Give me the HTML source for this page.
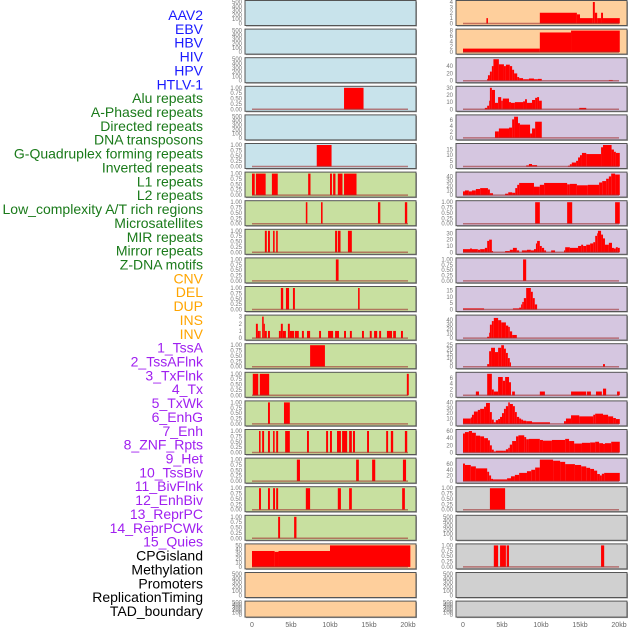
<!DOCTYPE html>
<html><head><meta charset="utf-8"><style>
html,body{margin:0;padding:0;background:#fff;}
svg{display:block;font-family:"Liberation Sans",sans-serif;}
</style></head><body>
<svg id="chart" width="630" height="630" viewBox="0 0 630 630"></svg>
<script>
const labels=["AAV2","EBV","HBV","HIV","HPV","HTLV-1","Alu repeats","A-Phased repeats","Directed repeats","DNA transposons","G-Quadruplex forming repeats","Inverted repeats","L1 repeats","L2 repeats","Low_complexity A/T rich regions","Microsatellites","MIR repeats","Mirror repeats","Z-DNA motifs","CNV","DEL","DUP","INS","INV","1_TssA","2_TssAFlnk","3_TxFlnk","4_Tx","5_TxWk","6_EnhG","7_Enh","8_ZNF_Rpts","9_Het","10_TssBiv","11_BivFlnk","12_EnhBiv","13_ReprPC","14_ReprPCWk","15_Quies","CPGisland","Methylation","Promoters","ReplicationTiming","TAD_boundary"];
const labelGroups=[6,13,5,15,5];
const groupColors=["#1a1aff","#1a7a1a","#ffa500","#a020f0","#000000"];
const xTicks=[0,5,10,15,20];
const xTickLabels=["0","5kb","10kb","15kb","20kb"];
const E=[0,100,200,300,400,500], B=[0,0.25,0.5,0.75,1];
const leftBg=["#c8e3eb","#c8e3eb","#c8e3eb","#c8e3eb","#c8e3eb","#c8e3eb","#c8e0a0","#c8e0a0","#c8e0a0","#c8e0a0","#c8e0a0","#c8e0a0","#c8e0a0","#c8e0a0","#c8e0a0","#c8e0a0","#c8e0a0","#c8e0a0","#c8e0a0","#fecf9c","#fecf9c","#fecf9c"];
const rightBg=["#fecf9c","#fecf9c","#d5c6e0","#d5c6e0","#d5c6e0","#d5c6e0","#d5c6e0","#d5c6e0","#d5c6e0","#d5c6e0","#d5c6e0","#d5c6e0","#d5c6e0","#d5c6e0","#d5c6e0","#d5c6e0","#d5c6e0","#d0d0d0","#d0d0d0","#d0d0d0","#d0d0d0","#d0d0d0"];
const leftMax=[500,500,500,1,500,1,1,1,1,1,1,3,1,1,1,1,1,1,1,50,500,500];
const rightMax=[4,8,59,30,7.3,19,46,1,34,1,17,48,25,7.4,40,60,76,1,500,1,500,500];
const leftTicks=[E,E,E,B,E,B,B,B,B,B,B,[0,1,2,3],B,B,B,B,B,B,B,[0,10,20,30,40,50],E,E];
const rightTicks=[[0,1,2,3,4],[0,2,4,6,8],[0,20,40],[0,10,20,30],[0,2,4,6],[0,5,10,15],[0,10,20,30,40],B,[0,10,20,30],B,[0,5,10,15],[0,10,20,30,40],[0,5,10,15,20,25],[0,2,4,6],[0,10,20,30,40],[0,20,40,60],[0,20,40,60],B,E,B,E,E];
const leftData=[[],[],[],[[11.8,14.3,1]],[],[[8.3,10.2,1]],
[[0,0.35,1],[0.5,1.75,1],[2.55,3.3,1],[7.2,7.5,1],[10,10.25,1],[10.4,10.7,1],[11,11.6,1],[11.8,13.4,1]],
[[6.9,7.1,1],[8.85,9.05,1],[16.15,16.45,1],[19.6,19.9,1]],
[[1.65,1.9,1],[2.05,2.3,1],[2.7,2.9,1],[3.1,3.3,1],[10.65,10.9,1],[11,11.35,1],[12.3,12.8,1]],
[[10.75,11.1,1]],
[[3.7,4,1],[4.35,4.75,1],[5.25,5.5,1],[13.6,13.8,1]],
[[0.5,0.75,2],[0.75,1.0,1],[1.0,1.1,1],[1.3,1.5,3],[1.5,1.65,2],[1.65,1.9,1],[2.05,2.3,1],[3.45,3.7,1],[3.7,3.95,2],[3.95,4.35,1],[4.6,4.85,2],[4.85,5.4,1],[5.5,6.0,1],[6.4,6.65,1],[7.05,7.45,1],[8.6,8.85,1],[9.75,10.4,1],[10.65,11.15,1],[11.8,12.05,1],[12.55,12.8,1],[14.1,14.35,1],[15.1,15.35,1],[15.65,16.05,1],[16.3,16.55,1],[17.3,17.95,1],[18.1,18.45,1],[19.1,19.35,1]],
[[7.45,9.35,1]],
[[0.1,0.8,1],[1.0,2.2,1],[19.85,20.1,1]],
[[2.05,2.3,1],[4.1,4.85,1]],
[[0.9,1.1,1],[1.3,1.55,1],[2.05,2.3,1],[2.7,2.9,1],[3.1,3.35,1],[4.25,4.85,1],[7.05,7.3,1],[9.5,9.75,1],[10,10.25,1],[10.9,11.4,1],[11.55,12.2,1],[12.45,12.8,1],[12.95,13.2,1],[14.75,15,1],[17.2,17.45,1],[17.8,18.1,1],[19.6,19.9,1]],
[[5.75,6.15,1],[13.35,13.7,1],[15.4,15.8,1],[19.35,19.75,1]],
[[0.9,1.15,1],[2.05,2.3,1],[2.7,2.95,1],[3.1,3.35,1],[6.9,7.45,1],[11,11.4,1],[12.45,12.8,1],[19.25,19.6,1]],
[[3.35,3.6,1],[5.4,5.7,1]],
[[0,2.9,37],[2.9,3.4,35],[3.4,10,37],[10,20.3,50]],
[],[]];
const rightData=[
[[3.0,3.2,1],[9.85,14.6,2],[14.6,15,1.7],[15,16.65,1],[16.65,16.9,4],[16.9,17.2,2],[17.2,17.7,1],[17.7,17.95,2],[17.95,20.1,1]],
[[0,9.85,1.3],[9.85,13.85,7.3],[13.85,20.1,8]],
[[3.1,3.2,5],[3.2,3.45,15],[3.45,3.7,25],[3.7,3.9,40],[3.9,4.6,59],[4.6,5.25,45],[5.25,5.5,40],[5.5,6,44],[6,6.3,40],[6.3,6.55,30],[6.55,6.95,20],[6.95,7.2,10],[7.2,7.7,7],[7.7,8.45,4],[8.45,9.1,6],[9.1,9.6,4],[9.6,10.1,5],[18.7,19.2,2]],
[[2.8,3.1,2],[3.1,3.35,5],[3.35,3.45,12],[3.45,3.7,30],[3.7,4.1,27],[4.1,4.5,9],[4.5,4.9,17],[4.9,5.1,12],[5.1,5.9,15],[5.9,6.15,10],[6.15,6.65,9],[6.65,7.7,10],[7.7,7.95,11],[7.95,8.2,14],[8.2,8.85,9],[8.85,9.25,13],[9.25,9.5,16],[9.5,9.75,17],[9.75,10.1,12],[14.9,15.8,2]],
[[4.1,4.6,2.2],[4.6,5.9,3.2],[5.9,6.3,3.5],[6.3,6.55,6.3],[6.55,7.05,7.2],[7.05,7.3,5],[7.3,8.6,4.5],[8.6,8.85,1.5],[8.85,9.25,3.2],[9.25,10.1,5.5]],
[[8.1,8.45,1],[8.45,8.85,2.2],[8.85,9.5,1.2],[13.45,13.7,0.7],[13.7,13.95,2],[13.95,14.5,3.5],[14.5,14.75,5],[14.75,15,8],[15,15.25,10],[15.25,15.8,12],[15.8,17.7,11],[17.7,17.95,17],[17.95,19.05,19],[19.05,19.35,15],[19.35,19.6,13],[19.6,20.1,12]],
[[0,0.25,8],[0.25,0.75,10],[0.75,1.15,8],[1.15,1.65,10],[1.65,2.2,13],[2.2,3.2,15],[3.2,3.45,12],[3.45,3.85,4],[5.4,5.8,3],[5.8,6.3,6],[6.3,6.7,5],[6.7,6.95,15],[6.95,7.2,22],[7.2,9.1,26],[9.1,9.85,18],[9.85,10.4,22],[10.4,13.35,26],[13.35,13.7,23],[13.7,14.6,24],[14.6,16,21],[16,17.45,22],[17.45,17.85,27],[17.85,18.35,30],[18.35,18.7,35],[18.7,19,40],[19,19.5,46],[19.5,20.1,44]],
[[9.25,9.85,1],[13.35,14,1],[19.5,20.1,1]],
[[0,0.9,5],[0.9,1.15,6],[1.15,1.9,5],[1.9,2.2,4],[2.2,2.8,5],[2.8,3.1,7],[3.1,3.35,18],[3.35,3.7,20],[3.7,3.85,2],[5.4,6,2],[6,6.4,4],[6.4,6.9,7],[6.9,7.2,3],[7.55,8.2,3],[8.2,8.7,4],[8.7,9.1,3],[9.1,9.35,5],[9.35,9.5,14],[9.5,9.85,18],[9.85,10.1,10],[10.1,10.4,7],[10.4,10.65,3],[11.3,11.8,3],[12.95,13.1,3],[13.1,13.7,8],[13.7,14.75,7],[14.75,15.15,10],[15.15,15.4,12],[15.4,15.8,10],[15.8,16.3,12],[16.3,16.7,14],[16.7,16.95,16],[16.95,17.2,26],[17.2,17.3,30],[17.3,17.7,34],[17.7,17.95,28],[17.95,18.2,22],[18.2,18.7,12],[18.7,19.1,15],[19.1,19.35,7],[19.35,19.6,6],[19.6,19.85,8],[19.85,20.1,7]],
[[7.7,8.1,1]],
[[0,2.7,0.9],[6.4,7.2,0.9],[7.2,7.45,1.5],[7.45,7.6,4],[7.6,7.8,6],[7.8,8.1,9],[8.1,8.7,17],[8.7,8.95,14],[8.95,9.2,9],[9.2,9.5,4]],
[[3.1,3.35,3],[3.35,3.45,12],[3.45,3.7,30],[3.7,3.95,38],[3.95,4.5,45],[4.5,4.9,40],[4.9,5.5,35],[5.5,5.8,28],[5.8,6.0,25],[6.0,6.3,15],[6.3,6.9,7]],
[[3.1,3.35,3],[3.35,3.6,18],[3.6,4.1,22],[4.1,4.5,17],[4.5,4.9,22],[4.9,5.25,25],[5.25,5.5,21],[5.5,5.75,16],[5.75,6,10],[6,6.15,5],[17.95,18.2,3]],
[[1.65,2.05,1.3],[3.1,3.7,7.4],[3.7,3.95,2],[3.95,4.5,1.3],[4.5,5.1,6.3],[5.1,5.4,5],[5.4,5.9,6.3],[5.9,6.15,4.5],[6.3,6.65,1.3],[9.85,10.5,1.3],[13.85,15.8,1.3],[15.9,16.4,1.3],[17.05,17.8,1.3],[17.95,18.35,2.3],[19.75,20.1,1.3]],
[[0,1.0,10],[1.0,1.15,12],[1.15,1.4,17],[1.4,1.9,23],[1.9,2.2,26],[2.2,2.7,28],[2.7,2.95,32],[2.95,3.45,39],[3.45,3.7,22],[3.7,3.95,8],[3.95,4.2,3],[4.2,4.5,7],[4.5,4.75,9],[4.75,5.0,13],[5.0,5.25,20],[5.25,5.5,28],[5.5,5.8,33],[5.8,6.0,40],[6.0,6.4,37],[6.4,6.65,33],[6.65,6.9,22],[6.9,7.2,13],[7.2,7.45,10],[7.45,7.7,8],[7.7,8.1,6],[8.1,8.85,5],[8.85,11.15,3],[12.95,13.2,5],[13.2,13.85,10],[13.85,14.9,16],[14.9,16.7,14],[16.7,16.95,17],[16.95,17.95,19],[17.95,18.6,17],[18.6,19.25,14],[19.25,19.6,11],[19.6,20.1,9]],
[[0,0.25,53],[0.25,0.75,57],[0.75,1.15,60],[1.15,1.65,55],[1.65,2.2,47],[2.2,2.7,45],[2.7,3.2,40],[3.2,3.45,34],[3.45,3.7,20],[3.7,3.95,8],[3.95,4.2,3],[4.2,5.25,5],[5.25,5.5,5],[5.5,5.8,9],[5.8,6.0,13],[6.0,6.3,22],[6.3,6.8,32],[6.8,7.1,45],[7.1,7.85,48],[7.85,8.1,43],[8.1,8.45,37],[8.45,9.85,38],[9.85,10.25,35],[10.25,11.4,33],[11.4,13.1,35],[13.1,13.6,38],[13.6,14.25,32],[14.25,15.25,25],[15.25,16.3,27],[16.3,16.95,28],[16.95,17.45,30],[17.45,17.95,26],[17.95,18.2,24],[18.2,19,26],[19,20.1,30]],
[[0,0.25,62],[0.25,1.0,57],[1.0,1.65,52],[1.65,3.1,45],[3.1,3.35,33],[3.35,3.6,20],[3.6,3.85,8],[3.85,5.65,6],[5.65,6.15,10],[6.15,6.65,17],[6.65,7.2,22],[7.2,8.2,29],[8.2,8.75,35],[8.75,9.25,40],[9.25,9.85,48],[9.85,11.55,76],[11.55,12.45,72],[12.45,13.1,68],[13.1,14.35,60],[14.35,15.15,57],[15.15,15.8,52],[15.8,16.3,47],[16.3,16.8,43],[16.8,17.2,37],[17.2,17.55,25],[17.55,17.8,20],[17.8,18.1,26],[18.1,20.1,29]],
[[3.45,5.4,1]],
[],
[[3.95,4.5,1],[4.75,5.5,1],[5.6,5.9,1],[17.7,18.1,1]],
[],[]];

const NS="http://www.w3.org/2000/svg";
const svg=document.getElementById("chart");
function el(tag,attrs,parent){const e=document.createElementNS(NS,tag);for(const k in attrs)e.setAttribute(k,attrs[k]);(parent||svg).appendChild(e);return e;}
function rowTop(i){return 0.5+i*28.6;}
function rowH(i){return i<21?25:16;}
const cols=[{x0:245,x1:416,bg:leftBg,max:leftMax,ticks:leftTicks,data:leftData,name:"left"},{x0:456,x1:627,bg:rightBg,max:rightMax,ticks:rightTicks,data:rightData,name:"right"}];
function xScale(c,kb){return c.x0+7+kb*7.8;}
function fmt(v,isB){return isB?v.toFixed(2):String(v);}

// labels
let li=0;
labelGroups.forEach((n,g)=>{for(let k=0;k<n;k++){const t=el("text",{x:203,y:15+li*13.86+5,"text-anchor":"end","font-size":"14",fill:groupColors[g]});t.textContent=labels[li];


li++;}});

cols.forEach(c=>{
  for(let i=0;i<22;i++){
    const top=rowTop(i),h=rowH(i);
    const g=el("g",{});
    
    
    el("rect",{x:c.x0+1,y:top+1,width:c.x1-c.x0,height:h,fill:"#999"},g);
    el("rect",{x:c.x0,y:top,width:c.x1-c.x0,height:h,fill:c.bg[i],stroke:"#555","stroke-width":1},g);
    const y0=top+h-2, yT=top+1.5, mx=c.max[i];
    const ys=v=>y0-(v/mx)*(y0-yT);
    const isB=c.ticks[i]===B;
    c.ticks[i].forEach(v=>{const t=el("text",{x:c.x0-3,y:ys(v)+2,"text-anchor":"end","font-size":"6",fill:"#777"},g);t.textContent=fmt(v,isB);
      
      });
    const d=c.data[i];
    if(d.length){
      d.forEach(s=>{const r=el("rect",{x:xScale(c,s[0]),y:ys(s[2]),width:Math.max(0.8,xScale(c,s[1])-xScale(c,s[0])),height:y0-ys(s[2]),fill:"#ff0000"},g);
        
        });
      el("line",{x1:xScale(c,0),x2:xScale(c,20),y1:y0,y2:y0,stroke:"#a03030","stroke-opacity":0.6,"stroke-width":1.5},g);
    }
  }
  xTicks.forEach((v,k)=>{const t=el("text",{x:xScale(c,v),y:627,"text-anchor":"middle","font-size":"7",fill:"#666"});t.textContent=xTickLabels[k];
    
    });
});
</script>
</body></html>
